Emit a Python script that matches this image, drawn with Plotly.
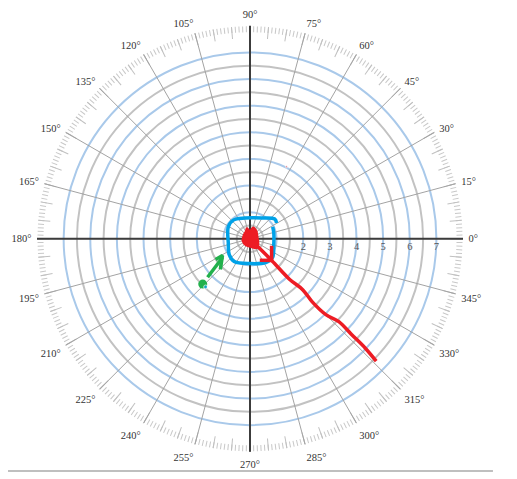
import plotly.graph_objects as go

# angular labels every 15 degrees
angle_vals = list(range(0, 360, 15))
angle_labels = [f"{a}°" for a in angle_vals]
minor_ticks = list(range(0, 360, 1))
mid_ticks = list(range(0, 360, 5))
axis_dirs = [0, 90, 180, 270]

# radial circles and labels
gray_rings = [0.5, 1.5, 2.5, 3.5, 4.5, 5.5, 6.5]
blue_rings = [1, 2, 3, 4, 5, 6, 7]
radial_ticks = [2, 3, 4, 5, 6, 7]
radial_labels = ["2", "3", "4", "5", "6", "7"]

# hand-drawn marks (r, theta in degrees)
red_line_r = [0.21, 1.15, 2.12, 2.75, 3.33, 4.03, 4.56, 5.24, 5.97, 6.60]
red_line_t = [315, 315, 314.3, 316, 314.6, 315, 317, 316.7, 316.5, 315.9]
red_head_r = [0.85, 1.15, 0.89]
red_head_t = [342.3, 315, 294.4]
red_blob_r = [0.41, 0.30, 0.44, 0.39, 0.29, 0.35, 0.44, 0.33, 0.29, 0.29, 0.27, 0.32, 0.41]
red_blob_t = [106.7, 90, 74.7, 53.1, 15.9, 333.4, 307.9, 284, 236.3, 195.9, 153.4, 119.7, 106.7]
blue_loop_r = [1.16, 1.19, 0.90, 0.80, 0.94, 0.93, 0.83, 0.98, 1.04, 0.93, 1.07, 1.10, 0.92, 0.92, 0.96]
blue_loop_t = [30.6, 38.7, 60.3, 103.4, 131.8, 151.4, 190.3, 217.3, 235.2, 270, 303.7, 320.4, 346, 14, 27.6]
green_shaft_r = [2.15, 1.25]
green_shaft_t = [222.2, 214.2]
green_head_r = [1.51, 1.21, 1.60]
green_head_t = [211, 211.3, 225.9]
green_dot_r = [2.46]
green_dot_t = [223.8]
speck_r = [2.46, 3.03]
speck_t = [227.4, 63.1]

# page has an 8px body margin, so the domain is shifted to put the centre where the reference has it
dom = dict(x=[0.0561, 0.8801], y=[0.0735, 0.9629])
clear = "rgba(0,0,0,0)"
serif = "Liberation Serif"

fig = go.Figure()

# one invisible point per layer so every polar layer gets drawn
for sp in ["polar", "polar2", "polar3"]:
    fig.add_trace(go.Scatterpolar(r=[0], theta=[0], mode="markers",
                                  marker=dict(opacity=0), hoverinfo="skip",
                                  showlegend=False, subplot=sp))

fig.add_trace(go.Scatterpolar(r=blue_loop_r, theta=blue_loop_t, mode="lines",
                              line=dict(color="#00a2e8", width=3.5, shape="spline"),
                              showlegend=False, subplot="polar4"))
fig.add_trace(go.Scatterpolar(r=red_line_r, theta=red_line_t, mode="lines",
                              line=dict(color="#ed1c24", width=3.5, shape="spline"),
                              showlegend=False, subplot="polar4"))
fig.add_trace(go.Scatterpolar(r=red_head_r, theta=red_head_t, mode="lines",
                              line=dict(color="#ed1c24", width=3.5),
                              showlegend=False, subplot="polar4"))
fig.add_trace(go.Scatterpolar(r=red_blob_r, theta=red_blob_t, mode="lines",
                              fill="toself", fillcolor="#ed1c24",
                              line=dict(color="#ed1c24", width=2, shape="spline"),
                              showlegend=False, subplot="polar4"))
fig.add_trace(go.Scatterpolar(r=green_shaft_r, theta=green_shaft_t, mode="lines",
                              line=dict(color="#22b14c", width=3.5),
                              showlegend=False, subplot="polar4"))
fig.add_trace(go.Scatterpolar(r=green_head_r, theta=green_head_t, mode="lines",
                              line=dict(color="#22b14c", width=3.5),
                              showlegend=False, subplot="polar4"))
fig.add_trace(go.Scatterpolar(r=green_dot_r, theta=green_dot_t, mode="markers",
                              marker=dict(color="#22b14c", size=9),
                              showlegend=False, subplot="polar4"))
fig.add_trace(go.Scatterpolar(r=speck_r, theta=speck_t, mode="markers",
                              marker=dict(color=["#00a2e8", "#ed1c24"], size=[4, 2]),
                              showlegend=False, subplot="polar4"))

hidden_radial = dict(range=[0, 8], showticklabels=False, ticks="", showline=False)

fig.update_layout(
    width=517, height=479,
    margin=dict(l=0, r=0, t=0, b=0),
    paper_bgcolor="white",
    showlegend=False,
    polar=dict(
        domain=dom, bgcolor="white",
        radialaxis=dict(hidden_radial, tickvals=gray_rings, showgrid=True,
                        gridcolor="#c2c2c2", gridwidth=1.5),
        angularaxis=dict(tickmode="array", tickvals=minor_ticks, ticks="inside",
                         ticklen=6, tickcolor="#c8c8c8", tickwidth=1,
                         showticklabels=False, showgrid=False, showline=False),
    ),
    polar2=dict(
        domain=dom, bgcolor=clear,
        radialaxis=dict(hidden_radial, tickvals=blue_rings, showgrid=True,
                        gridcolor="#a9c9ea", gridwidth=1.5),
        angularaxis=dict(tickmode="array", tickvals=mid_ticks, ticks="inside",
                         ticklen=12, tickcolor="#c0c0c0", tickwidth=1,
                         showticklabels=False, showgrid=False, showline=False),
    ),
    polar3=dict(
        domain=dom, bgcolor=clear,
        radialaxis=dict(hidden_radial, showgrid=False),
        # invisible outside ticks only push the labels away from the rim
        angularaxis=dict(tickmode="array", tickvals=angle_vals, ticktext=angle_labels,
                         ticks="outside", ticklen=3, tickcolor=clear,
                         showgrid=True, gridcolor="#a3a3a3", gridwidth=1.2,
                         showline=False,
                         tickfont=dict(family=serif, size=10.5, color="#333333")),
    ),
    polar4=dict(
        domain=dom, bgcolor=clear,
        radialaxis=dict(range=[0, 8], tickmode="array", tickvals=radial_ticks,
                        ticktext=radial_labels, angle=0, side="clockwise",
                        ticks="", showline=False, showgrid=False,
                        tickfont=dict(family=serif, size=10.5, color="#555555")),
        angularaxis=dict(tickmode="array", tickvals=axis_dirs, ticks="",
                         showticklabels=False, showgrid=True, gridcolor="#3c3c3c",
                         gridwidth=2, showline=False),
    ),
    shapes=[
        dict(type="line", xref="paper", yref="paper", x0=0, x1=0.938,
             y0=0.0334, y1=0.0334, line=dict(color="#aaaaaa", width=1.5)),
    ],
)

fig.write_html("out.html")
